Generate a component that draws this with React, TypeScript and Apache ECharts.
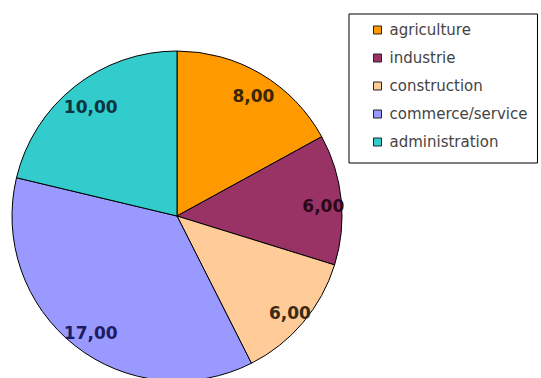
import React, { useEffect, useRef } from "react";
import * as echarts from "echarts";

const categories = ["agriculture", "industrie", "construction", "commerce/service", "administration"];
const values = [8, 6, 6, 17, 10];
const sliceColors = ["#FF9900", "#993366", "#FFCC99", "#9999FF", "#33CCCC"];
const labelColors = ["#3a2600", "#2a0818", "#3a2a14", "#1c1c5e", "#0c3440"];

const fmt = (v: number) => v.toFixed(2).replace(".", ",");

export default function App() {
  const ref = useRef<HTMLDivElement>(null);

  useEffect(() => {
    if (!ref.current) return;
    const chart = echarts.init(ref.current, undefined, { renderer: "svg" });

    const pieData = categories.map((name, i) => ({
      name,
      value: values[i],
      itemStyle: { color: sliceColors[i] },
    }));

    const labelData = categories.map((name, i) => ({
      name,
      value: values[i],
      label: { color: labelColors[i] },
    }));

    chart.setOption({
      animation: false,
      backgroundColor: "#ffffff",
      legend: {
        orient: "vertical",
        left: 349,
        top: 14,
        data: categories,
        icon: "rect",
        itemWidth: 8,
        itemHeight: 8,
        itemGap: 12,
        padding: [8, 10, 13, 24],
        borderColor: "#000",
        borderWidth: 1,
        borderRadius: 0,
        selectedMode: false,
        itemStyle: { borderColor: "#222", borderWidth: 1 },
        textStyle: {
          fontFamily: "DejaVu Sans",
          fontSize: 15,
          color: "#444444",
          lineHeight: 16,
          padding: [0, 0, 0, 3],
        },
      },
      series: [
        {
          type: "pie",
          center: [177, 216],
          radius: [0, 165],
          startAngle: 90,
          clockwise: true,
          silent: true,
          data: pieData,
          itemStyle: { borderColor: "#000", borderWidth: 1 },
          label: { show: false },
          labelLine: { show: false },
        },
        {
          // transparent ring used only to place the value labels near the rim
          type: "pie",
          center: [177, 216],
          radius: [117, 165],
          startAngle: 90,
          clockwise: true,
          silent: true,
          legendHoverLink: false,
          data: labelData,
          itemStyle: { color: "transparent", borderWidth: 0 },
          label: {
            show: true,
            position: "inside",
            formatter: (p: any) => fmt(p.value),
            fontFamily: "DejaVu Sans",
            fontWeight: "bold",
            fontSize: 17,
            offset: [3, 4],
          },
          labelLine: { show: false },
        },
      ],
    });

    return () => chart.dispose();
  }, []);

  return (
    <div
      ref={ref}
      style={{ position: "fixed", left: 0, top: 0, width: 541, height: 378 }}
    />
  );
}
